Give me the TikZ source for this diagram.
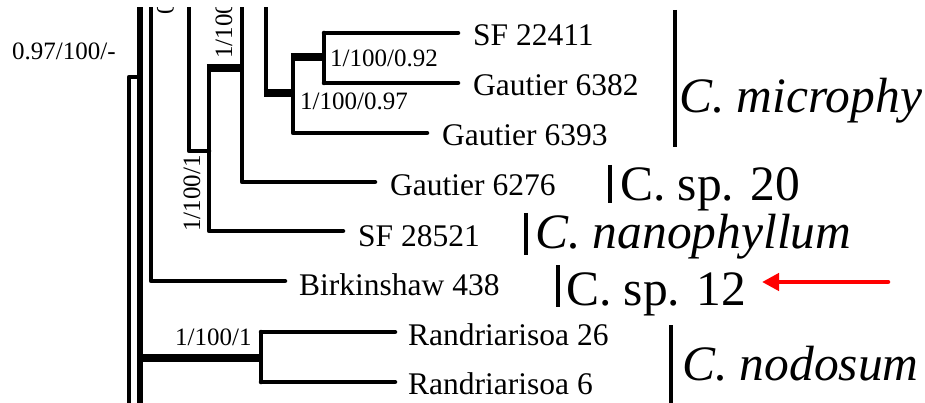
\documentclass[tikz,border=0pt]{standalone}
\usepackage{fontspec}
\setmainfont{Liberation Serif}
\usetikzlibrary{arrows.meta}
\tikzset{
  br/.style={line width=4.5pt, line cap=round, line join=round},
  thickbr/.style={line width=8.5pt, line cap=butt, shorten <=-2.25pt, shorten >=-2.25pt},
  taxon/.style={inner sep=0pt, anchor=base west, font=\fontsize{31.5}{36}\selectfont},
  support/.style={inner sep=0pt, anchor=base west, font=\fontsize{25}{30}\selectfont},
  species/.style={inner sep=0pt, anchor=base west, font=\fontsize{49.5}{56}\selectfont},
  spbar/.style={line width=4.5pt},
  pointer/.style={draw=red, line width=4.5pt, line cap=round, -{Triangle[length=17pt,width=17pt]}}
}
\begin{document}
\begin{tikzpicture}[x=1pt, y=-1pt]
\useasboundingbox (0,0) rectangle (925,403);
\fill[white] (0,0) rectangle (925,403);
\clip (0,8) rectangle (925,403);

% ---- branch points and tips ----
\coordinate (rootlow) at (129,410);
\coordinate (root) at (129,77);
\coordinate (spine77) at (140,77);
\coordinate (spinetop) at (140,0);
\coordinate (spinelow) at (140,410);
\coordinate (spine358) at (140,358);

\coordinate (bktop) at (151,0);
\coordinate (eBirk) at (285,281);

\coordinate (gtop) at (189,0);
\coordinate (g151) at (209,151);

\coordinate (nTop) at (209,68);
\coordinate (eSF28521) at (343,231);
\coordinate (n242) at (242,68);

\coordinate (cTop) at (242,0);
\coordinate (e6276) at (375,182);

\coordinate (mTop) at (266,0);
\coordinate (m93) at (266,93);
\coordinate (k93) at (293,93);
\coordinate (kTop) at (293,57);
\coordinate (e6393) at (427,133);
\coordinate (j57) at (324,57);
\coordinate (jTop) at (324,33);
\coordinate (jLow) at (324,83);
\coordinate (eSF22411) at (458,33);
\coordinate (e6382) at (458,83);

\coordinate (nod) at (261,358);
\coordinate (nodTop) at (261,332);
\coordinate (nodLow) at (261,382);
\coordinate (eR26) at (395,332);
\coordinate (eR6) at (395,382);

% ---- tree ----
\draw[br] (rootlow) -- (root) -- (spine77);
\draw[br, line width=5.5pt] (spinetop) -- (spinelow);
\draw[br] (bktop) |- (eBirk);
\draw[br] (gtop) |- (g151);
\draw[br] (nTop) |- (eSF28521);
\draw[thickbr] (nTop) -- (n242);
\draw[br] (cTop) |- (e6276);
\draw[br] (mTop) -- (m93);
\draw[thickbr] (m93) -- (k93);
\draw[br] (kTop) |- (e6393);
\draw[thickbr] (kTop) -- (j57);
\draw[br] (jTop) -- (jLow);
\draw[br] (jTop) -- (eSF22411);
\draw[br] (jLow) -- (e6382);
\draw[thickbr] (spine358) -- (nod);
\draw[br] (nodTop) -- (nodLow);
\draw[br] (nodTop) -- (eR26);
\draw[br] (nodLow) -- (eR6);

% ---- tip labels ----
\node[taxon] (tSF22411) at ([shift={(15,13)}]eSF22411) {SF 22411};
\node[taxon] (t6382) at ([shift={(15,13)}]e6382) {Gautier 6382};
\node[taxon] (t6393) at ([shift={(15,13)}]e6393) {Gautier 6393};
\node[taxon] (t6276) at ([shift={(15,14)}]e6276) {Gautier 6276};
\node[taxon] (tSF28521) at ([shift={(15,15)}]eSF28521) {SF 28521};
\node[taxon] (tBirk) at ([shift={(14,14)}]eBirk) {Birkinshaw 438};
\node[taxon] (tR26) at ([shift={(13,13)}]eR26) {Randriarisoa 26};
\node[taxon] (tR6) at ([shift={(13,12)}]eR6) {Randriarisoa 6};

% ---- support values ----
\node[support] (s1) at (12,60) {0.97/100/-};
\node[support] (s2) at (330,67) {1/100/0.92};
\node[support] (s3) at (300,110) {1/100/0.97};
\node[support] (s4) at (175,345) {1/100/1};
\node[support, rotate=90] (s5) at (200,232) {1/100/1};
\node[support, rotate=90] (s6) at (232,59) {1/100};
\node[support, rotate=90] (s7) at (173.5,14.5) {0};

% ---- species brackets ----
\coordinate (b1a) at (675,10);   \coordinate (b1b) at (675,147);
\coordinate (b2a) at (610,165);  \coordinate (b2b) at (610,203);
\coordinate (b3a) at (526,213);  \coordinate (b3b) at (526,255);
\coordinate (b4a) at (558,265);  \coordinate (b4b) at (558,307);
\coordinate (b5a) at (671,325);  \coordinate (b5b) at (671,410);
\draw[spbar] (b1a) -- (b1b);
\draw[spbar] (b2a) -- (b2b);
\draw[spbar] (b3a) -- (b3b);
\draw[spbar] (b4a) -- (b4b);
\draw[spbar] (b5a) -- (b5b);

\node[species] (cMicro) at (679,113) {\itshape C. microphy};
\node[species] (cSp20) at (620,201) {C. sp. 20};
\node[species] (cNano) at (535,248) {\itshape C. nanophyllum};
\node[species] (cSp12) at (566,305) {C. sp. 12};
\node[species] (cNod) at (682,380) {\itshape C. nodosum};

% ---- pointer ----
\coordinate (arrowtail) at (888,282);
\coordinate (arrowtip) at (762,282);
\draw[pointer] (arrowtail) -- (arrowtip);
\end{tikzpicture}
\end{document}
